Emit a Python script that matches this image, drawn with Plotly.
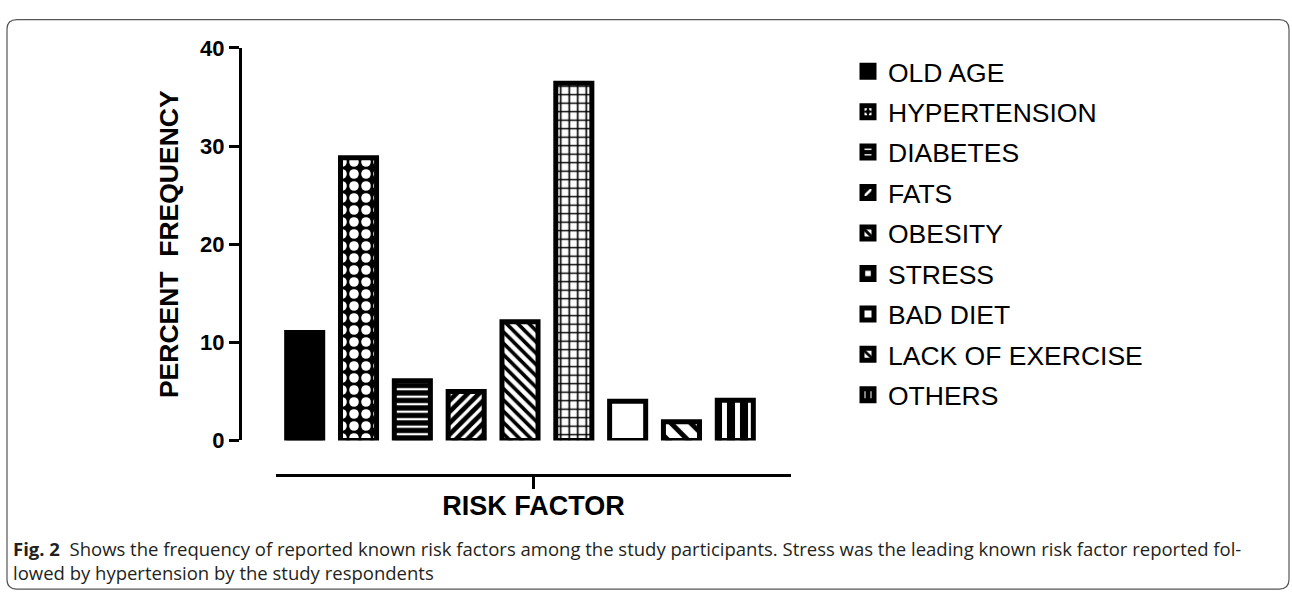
import plotly.graph_objects as go

# ---- data ----
categories = ["OLD AGE", "HYPERTENSION", "DIABETES", "FATS", "OBESITY",
              "STRESS", "BAD DIET", "LACK OF EXERCISE", "OTHERS"]
values = [11.0, 28.8, 6.1, 5.0, 12.1, 36.4, 4.0, 1.9, 4.1]
y_ticks = [0, 10, 20, 30, 40]
x_title = "RISK FACTOR"
y_title = "PERCENT  FREQUENCY"
caption_bold = "Fig. 2"
caption_text = ("Shows the frequency of reported known risk factors among the study participants. "
                "Stress was the leading known risk factor reported fol-<br>lowed by hypertension by the study respondents")

# ---- styles (pattern per category) ----
styles = {
    "OLD AGE": dict(color="black"),
    "HYPERTENSION": dict(color="black", pattern=dict(shape=".", bgcolor="black", fgcolor="white",
                                                     size=12, solidity=0.5, fgopacity=1)),
    "DIABETES": dict(color="black", pattern=dict(shape="-", bgcolor="black", fgcolor="white",
                                                 size=7.5, solidity=0.3, fgopacity=1)),
    "FATS": dict(color="black", pattern=dict(shape="/", bgcolor="black", fgcolor="white",
                                             size=8, solidity=0.4, fgopacity=1)),
    "OBESITY": dict(color="white", pattern=dict(shape="\\", bgcolor="white", fgcolor="black",
                                                size=8, solidity=0.45, fgopacity=1)),
    "STRESS": dict(color="white", pattern=dict(shape="+", bgcolor="white", fgcolor="black",
                                               size=8.5, solidity=0.35, fgopacity=1)),
    "BAD DIET": dict(color="white"),
    "LACK OF EXERCISE": dict(color="white", pattern=dict(shape="\\", bgcolor="white", fgcolor="black",
                                                         size=14, solidity=0.35, fgopacity=1)),
    "OTHERS": dict(color="black", pattern=dict(shape="|", bgcolor="black", fgcolor="white",
                                               size=13, solidity=0.38, fgopacity=1)),
}

W, H = 1292, 604
def fx(px):
    return px / W
def fy(py):
    return (H - py) / H

FONT = "Arial, Liberation Sans, sans-serif"

fig = go.Figure()
for i, (cat, val) in enumerate(zip(categories, values)):
    st = styles[cat]
    marker = dict(color=st["color"], line=dict(color="black", width=5))
    if "pattern" in st:
        marker["pattern"] = st["pattern"]
    fig.add_trace(go.Bar(
        x=[cat], y=[val], name=cat, marker=marker,
        legendgroup=cat, xaxis="x", yaxis="y",
    ))

# invisible trace to host the visible category axis (x2)
fig.add_trace(go.Scatter(x=[0.5], y=[0], xaxis="x2", yaxis="y", mode="markers",
                         marker=dict(opacity=0), showlegend=False, hoverinfo="skip"))

x_dom = [fx(276), fx(791)]
n = len(categories)
pitch = (735.3 - 304.7) / (n - 1)
x_range = [(276 - 304.7) / pitch, (791 - 304.7) / pitch]

fig.update_layout(
    width=W, height=H, autosize=False,
    margin=dict(l=0, r=0, t=0, b=0),
    paper_bgcolor="white", plot_bgcolor="rgba(0,0,0,0)",
    barmode="overlay", bargap=0.33,
    font=dict(family=FONT, color="black"),
    xaxis=dict(domain=x_dom, range=x_range, visible=False, categoryorder="array",
               categoryarray=categories, anchor="y"),
    xaxis2=dict(domain=x_dom, range=[0, 1], anchor="free", position=fy(483), overlaying="x",
                showline=True, linecolor="black", linewidth=3, showgrid=False, zeroline=False,
                ticks="outside", ticklen=12, tickwidth=3, tickcolor="black",
                tickvals=[0.5], showticklabels=False,
                title=dict(text="<b>" + x_title + "</b>", font=dict(size=27, family=FONT), standoff=8)),
    yaxis=dict(domain=[fy(447), fy(37.5)], range=[0, 40], anchor="free", position=fx(240),
               showline=True, linecolor="black", linewidth=3, showgrid=False, zeroline=False,
               ticks="outside", ticklen=10, tickwidth=3, tickcolor="black",
               tickvals=y_ticks, ticktext=["<b>%d</b>" % t for t in y_ticks],
               tickfont=dict(size=22, family=FONT),
               title=dict(text="<b>" + y_title + "</b>", font=dict(size=26.5, family=FONT), standoff=12)),
    legend=dict(x=fx(848), y=fy(37), xanchor="left", yanchor="top",
                font=dict(size=26.5, family=FONT), tracegroupgap=3,
                bgcolor="rgba(0,0,0,0)", borderwidth=0),
    showlegend=True,
)

# caption
fig.add_annotation(
    xref="paper", yref="paper", x=fx(11), y=fy(572), xanchor="left", yanchor="middle",
    text="<b>" + caption_bold + "</b>  " + caption_text, showarrow=False, align="left",
    font=dict(family="Open Sans, Noto Sans, sans-serif", size=18.5, color="#231f20"),
)

# rounded frame
x0, x1, y0, y1, r = 7, 1289, 8, 602, 10
path = (f"M {fx(x0 + r)},{fy(y0)} L {fx(x1 - r)},{fy(y0)} Q {fx(x1)},{fy(y0)} {fx(x1)},{fy(y0 + r)} "
        f"L {fx(x1)},{fy(y1 - r)} Q {fx(x1)},{fy(y1)} {fx(x1 - r)},{fy(y1)} "
        f"L {fx(x0 + r)},{fy(y1)} Q {fx(x0)},{fy(y1)} {fx(x0)},{fy(y1 - r)} "
        f"L {fx(x0)},{fy(y0 + r)} Q {fx(x0)},{fy(y0)} {fx(x0 + r)},{fy(y0)} Z")
fig.add_shape(type="path", xref="paper", yref="paper", path=path,
              line=dict(color="#555555", width=1.2))

post = ("document.documentElement.style.margin='0';document.body.style.margin='0';"
        "document.body.style.overflow='hidden';"
        "var d=document.getElementById('{plot_id}');d.style.position='fixed';"
        "d.style.top='0px';d.style.left='0px';")
fig.write_html("out.html", config={"displayModeBar": False}, post_script=post)
